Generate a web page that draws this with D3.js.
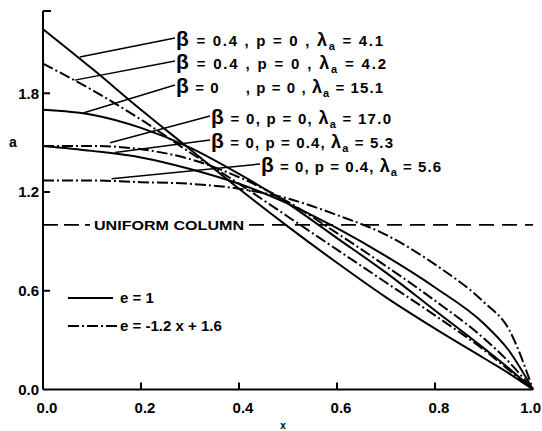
<!DOCTYPE html>
<html>
<head>
<meta charset="utf-8">
<script src="https://cdn.jsdelivr.net/npm/d3@7"></script>
<style>
  body { margin: 0; background: #fff; }
  text { font-family: "Liberation Sans", Arial, sans-serif; font-weight: bold; fill: #000; }
</style>
</head>
<body>
<div id="vis"></div>
<script>
// x positions along the column
const xs = [0, 0.1, 0.2, 0.3, 0.4, 0.5, 0.6, 0.7, 0.8, 0.9, 0.95, 1.0];

// area distribution a(x)
const aBeta04Lam41 = [2.19, 1.95, 1.70, 1.46, 1.22, 0.99, 0.77, 0.56, 0.37, 0.19, 0.10, 0];
const aBeta04Lam42 = [1.98, 1.82, 1.64, 1.44, 1.25, 1.05, 0.85, 0.65, 0.45, 0.24, 0.12, 0];
const aBeta0Lam151 = [1.70, 1.67, 1.59, 1.47, 1.31, 1.13, 0.92, 0.71, 0.48, 0.25, 0.13, 0];
const aBeta0Lam170 = [1.48, 1.48, 1.46, 1.40, 1.29, 1.14, 0.95, 0.75, 0.54, 0.31, 0.17, 0];
const aP04Lam53 = [1.48, 1.45, 1.41, 1.34, 1.25, 1.13, 0.98, 0.81, 0.62, 0.40, 0.24, 0];
const aP04Lam56 = [1.27, 1.27, 1.26, 1.25, 1.22, 1.16, 1.06, 0.94, 0.76, 0.53, 0.37, 0];

const uniformValue = 1.0;

const xTicks = [0, 0.2, 0.4, 0.6, 0.8, 1.0];
const xTickLabels = ["0.0", "0.2", "0.4", "0.6", "0.8", "1.0"];
const yTicks = [0, 0.6, 1.2, 1.8];
const yTickLabels = ["0.0", "0.6", "1.2", "1.8"];

// curve labels: beta, p, lambda text and the point on the curve the leader touches
const labelBeta = ["0.4 ,", "0.4 ,", "0     ,", "0,", "0,", "0,"];
const labelP = ["0 ,", "0 ,", "0 ,", "0,", "0.4,", "0.4,"];
const labelLam = ["4.1", "4.2", "15.1", "17.0", "5.3", "5.6"];
const leaderX = [0.075, 0.065, 0.082, 0.137, 0.147, 0.14];
const leaderY = [2.02, 1.88, 1.68, 1.50, 1.44, 1.28];

const legendLabels = ["e = 1", "e = -1.2 x + 1.6"];

const dashDot = "11,3,2,3";
const series = [
  { values: aBeta04Lam41, dash: null },
  { values: aBeta04Lam42, dash: dashDot },
  { values: aBeta0Lam151, dash: null },
  { values: aBeta0Lam170, dash: dashDot },
  { values: aP04Lam53, dash: null },
  { values: aP04Lam56, dash: dashDot },
];

const W = 542, H = 431;
const svg = d3.select("#vis").append("svg").attr("width", W).attr("height", H);

const x = d3.scaleLinear().domain([0, 1]).range([43, 533]);
const y = d3.scaleLinear().domain([0, 2.3]).range([389.5, 11]);

// axes, drawn by hand to get inward ticks like the original
const axisG = svg.append("g").attr("stroke", "#000").attr("stroke-width", 2);
axisG.append("line").attr("x1", x(0)).attr("x2", x(0)).attr("y1", y(0)).attr("y2", y(2.3));
axisG.append("line").attr("x1", x(0)).attr("x2", x(1)).attr("y1", y(0)).attr("y2", y(0));
axisG.append("line").attr("x1", x(0)).attr("x2", x(0) + 8).attr("y1", y(2.3)).attr("y2", y(2.3));
axisG.selectAll(".yt").data(yTicks.slice(1)).join("line")
  .attr("x1", x(0)).attr("x2", x(0) + 7)
  .attr("y1", d => y(d)).attr("y2", d => y(d));
axisG.selectAll(".xt").data(xTicks.slice(1, -1)).join("line")
  .attr("x1", d => x(d)).attr("x2", d => x(d))
  .attr("y1", y(0)).attr("y2", y(0) - 7);

svg.selectAll(".ytl").data(yTicks).join("text")
  .attr("x", x(0) - 4).attr("y", d => y(d)).attr("dy", "0.36em")
  .attr("text-anchor", "end").attr("font-size", 15)
  .text((d, i) => yTickLabels[i]);
svg.selectAll(".xtl").data(xTicks).join("text")
  .attr("x", (d, i) => i === xTicks.length - 1 ? W - 1 : x(d) + 4).attr("y", 413)
  .attr("text-anchor", (d, i) => i === xTicks.length - 1 ? "end" : "middle")
  .attr("font-size", 15)
  .text((d, i) => xTickLabels[i]);

svg.append("text").attr("x", 283).attr("y", 429).attr("text-anchor", "middle")
  .attr("font-size", 10).text("x");
svg.append("text").attr("x", 13).attr("y", 147).attr("text-anchor", "middle")
  .attr("font-size", 14).text("a");

// uniform column
svg.append("line").attr("x1", x(0)).attr("x2", 90)
  .attr("y1", y(uniformValue)).attr("y2", y(uniformValue))
  .attr("stroke", "#000").attr("stroke-width", 1.8).attr("stroke-dasharray", "15,6");
svg.append("line").attr("x1", 249).attr("x2", x(1))
  .attr("y1", y(uniformValue)).attr("y2", y(uniformValue))
  .attr("stroke", "#000").attr("stroke-width", 1.8).attr("stroke-dasharray", "15,8");
svg.append("text").attr("x", 94).attr("y", y(uniformValue) + 5)
  .attr("font-size", 13).attr("textLength", 150).attr("lengthAdjust", "spacingAndGlyphs")
  .text("UNIFORM COLUMN");

// curves
const line = d3.line()
  .x((d, i) => x(xs[i]))
  .y(d => y(d))
  .curve(d3.curveMonotoneX);

svg.selectAll(".curve").data(series).join("path")
  .attr("fill", "none").attr("stroke", "#000").attr("stroke-width", 2)
  .attr("stroke-dasharray", d => d.dash)
  .attr("d", d => line(d.values));

// curve labels with leaders
const labelPos = [
  [175, 46], [175, 69], [175, 93], [210, 124], [210, 148], [260, 172],
];
const labelWidth = [207, 210, 207, 180, 182, 180];
labelLam.forEach((lam, i) => {
  const [lx, ly] = labelPos[i];
  svg.append("line")
    .attr("x1", lx).attr("y1", ly - 8)
    .attr("x2", x(leaderX[i])).attr("y2", y(leaderY[i]))
    .attr("stroke", "#000").attr("stroke-width", 1.5);
  const t = svg.append("text").attr("x", lx + 1).attr("y", ly)
    .attr("font-size", 15).attr("xml:space", "preserve");
  t.append("tspan").attr("font-size", 21).text("β");
  t.append("tspan").text(` = ${labelBeta[i]} p = ${labelP[i]} `);
  t.append("tspan").attr("font-size", 18).text("λ");
  t.append("tspan").attr("font-size", 11).attr("dy", 4).text("a");
  t.append("tspan").attr("dy", -4).text(` = ${lam}`);
  t.attr("textLength", labelWidth[i]).attr("lengthAdjust", "spacing");
});

// legend
const legendDash = [null, dashDot];
legendLabels.forEach((lab, i) => {
  const ly = 298 + i * 28;
  svg.append("line").attr("x1", 68).attr("x2", i ? 120 : 113)
    .attr("y1", ly).attr("y2", ly)
    .attr("stroke", "#000").attr("stroke-width", 2)
    .attr("stroke-dasharray", legendDash[i]);
  svg.append("text").attr("x", 120).attr("y", ly + 5).attr("font-size", 15)
    .attr("xml:space", "preserve").text(lab);
});
</script>
</body>
</html>
